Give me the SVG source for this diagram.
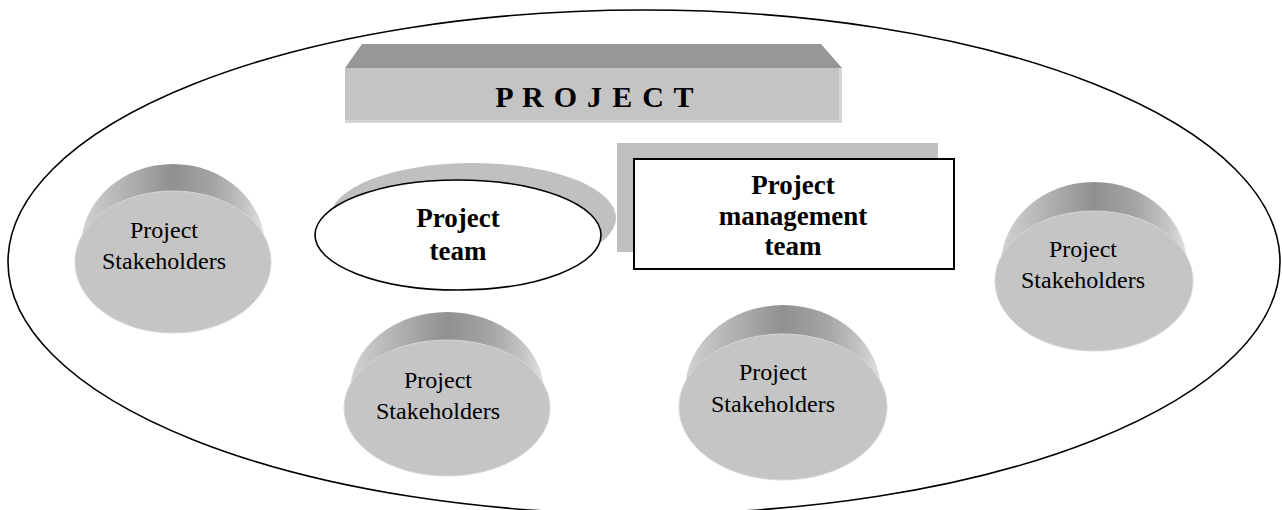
<svg xmlns="http://www.w3.org/2000/svg" width="1282" height="510" viewBox="0 0 1282 510">
<defs>
<linearGradient id="band" x1="0" y1="0" x2="1" y2="0">
<stop offset="0" stop-color="#d2d2d2"/>
<stop offset="0.18" stop-color="#bababa"/>
<stop offset="0.5" stop-color="#909090"/>
<stop offset="0.72" stop-color="#a4a4a4"/>
<stop offset="0.9" stop-color="#c6c6c6"/>
<stop offset="1" stop-color="#e2e2e2"/>
</linearGradient>
<style>
.outline{fill:none;stroke:#000;stroke-width:1.6}
.band{fill:url(#band)}
.face{fill:#c5c5c5;stroke:#d6d6d6;stroke-width:1}
.shadow{fill:#c0c0c0}
.sh{font-family:"Liberation Serif","Times New Roman",serif;font-size:24px;fill:#000;text-anchor:middle}
.bold{font-family:"Liberation Serif","Times New Roman",serif;font-size:27px;font-weight:bold;fill:#000;text-anchor:middle}
.title{font-family:"Liberation Serif","Times New Roman",serif;font-size:30px;font-weight:bold;fill:#000;text-anchor:middle;letter-spacing:1.3px}
</style>
</defs>
<rect width="1282" height="510" fill="#fff"/>
<g id="boundary">
<ellipse class="outline" cx="644" cy="262" rx="636" ry="252"/>
</g>
<g id="project">
<polygon points="362,44 821,44 842,68 345,68" fill="#979797"/>
<rect x="345" y="68" width="497" height="55" fill="#c4c4c4"/>
<rect x="345" y="120" width="497" height="3" fill="#d4d4d4"/>
<rect x="839" y="68" width="3" height="55" fill="#d4d4d4"/>
<text class="title" x="595" y="107">P R O J E C T</text>
</g>
<g id="project-team">
<ellipse class="shadow" cx="473" cy="218" rx="143" ry="55"/>
<ellipse cx="458" cy="235" rx="143" ry="55" fill="#fff" stroke="#000" stroke-width="1.6"/>
<text class="bold" x="458" y="227">Project</text>
<text class="bold" x="458" y="260">team</text>
</g>
<g id="project-management-team">
<rect class="shadow" x="617" y="143" width="321" height="109"/>
<rect x="634" y="159" width="320" height="110" fill="#fff" stroke="#000" stroke-width="2"/>
<text class="bold" x="793" y="194">Project</text>
<text class="bold" x="793" y="225">management</text>
<text class="bold" x="793" y="255">team</text>
</g>
<g id="connectors"></g>
<g id="stakeholders-left">
<ellipse class="band" cx="173" cy="247" rx="92" ry="83"/>
<ellipse class="face" cx="173" cy="262" rx="98" ry="71"/>
<text class="sh" x="164" y="238">Project</text>
<text class="sh" x="164" y="269">Stakeholders</text>
</g>
<g id="stakeholders-bottom-left">
<ellipse class="band" cx="447" cy="392" rx="97" ry="80"/>
<ellipse class="face" cx="447" cy="408" rx="103" ry="68"/>
<text class="sh" x="438" y="388">Project</text>
<text class="sh" x="438" y="419">Stakeholders</text>
</g>
<g id="stakeholders-bottom-right">
<ellipse class="band" cx="783" cy="391" rx="98" ry="86"/>
<ellipse class="face" cx="783" cy="407" rx="104" ry="73"/>
<text class="sh" x="773" y="380">Project</text>
<text class="sh" x="773" y="412">Stakeholders</text>
</g>
<g id="stakeholders-right">
<ellipse class="band" cx="1094" cy="265" rx="93" ry="83"/>
<ellipse class="face" cx="1094" cy="281" rx="99" ry="70"/>
<text class="sh" x="1083" y="257">Project</text>
<text class="sh" x="1083" y="288">Stakeholders</text>
</g>
</svg>
